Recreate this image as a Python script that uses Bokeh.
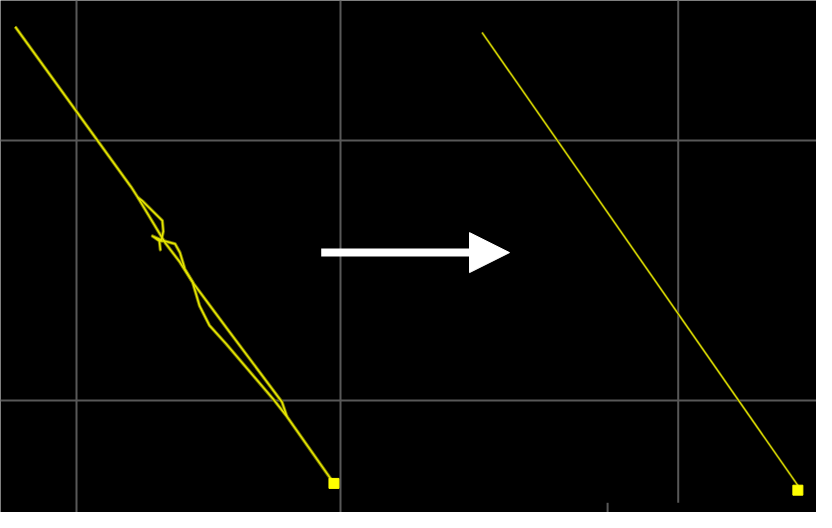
from bokeh.plotting import figure
from bokeh.models import Range1d, FixedTicker, Arrow, NormalHead
from bokeh.embed import file_html
from bokeh.resources import INLINE

# "Before" GPS track (screen-space units, y grows downward)
before_main_x = [15, 133, 140, 165, 168, 183, 196, 203, 213, 230, 278, 292, 340]
before_main_y = [27, 192, 203, 245, 250, 270, 291, 315, 335, 354, 411, 429, 498]
before_detour_x = [140, 145, 165, 166, 164, 155, 162, 163, 162, 167, 178, 183, 188, 197, 233, 287, 292]
before_detour_y = [203, 207, 227, 238, 247, 243, 248, 257, 248, 248, 251, 260, 277, 292, 341, 414, 429]
before_end_x = [340]
before_end_y = [498]

# "After" smoothed track
after_x = [491, 815]
after_y = [33, 503]
after_end_x = [813]
after_end_y = [505]

# grid positions
h_grid = [144, 413]
v_grid_left = [77, 347]
v_grid_right_x = [691, 619]
v_grid_right_y0 = [0, 518]
v_grid_right_y1 = [518, 528]

# arrow
arrow_x = [327, 519]
arrow_y = [260, 260]

W, H = 816, 512
p = figure(width=W, height=H, output_backend="svg", toolbar_location=None,
           x_range=Range1d(0, 832), y_range=Range1d(528, 0),
           background_fill_color="black", border_fill_color="black",
           min_border=0, outline_line_color=None)
p.xaxis.visible = False
p.yaxis.visible = False
p.xgrid.ticker = FixedTicker(ticks=v_grid_left)
p.ygrid.ticker = FixedTicker(ticks=h_grid)
for g in (p.xgrid, p.ygrid):
    g.grid_line_color = "#585858"
    g.grid_line_width = 2

p.segment(x0=v_grid_right_x, x1=v_grid_right_x, y0=v_grid_right_y0, y1=v_grid_right_y1,
          line_color="#585858", line_width=2)

p.multi_line(xs=[before_main_x, before_detour_x], ys=[before_main_y, before_detour_y],
             line_color="#707000", line_width=3.4, line_join="round")
p.multi_line(xs=[before_main_x, before_detour_x], ys=[before_main_y, before_detour_y],
             line_color="#e6e600", line_width=1.6, line_join="round")
p.scatter(before_end_x, before_end_y, marker="square", size=10, color="#ffff00")

p.line(after_x, after_y, line_color="#5a5a00", line_width=2.4)
p.line(after_x, after_y, line_color="#e0e000", line_width=1.2)
p.scatter(after_end_x, after_end_y, marker="square", size=10, color="#ffff00")

p.add_layout(Arrow(x_start=arrow_x[0], y_start=arrow_y[0], x_end=arrow_x[1], y_end=arrow_y[1],
                   line_color="white", line_width=8,
                   end=NormalHead(size=40, fill_color="white", line_color="white", line_width=1)))

open("out.html", "w").write(file_html(p, INLINE))
